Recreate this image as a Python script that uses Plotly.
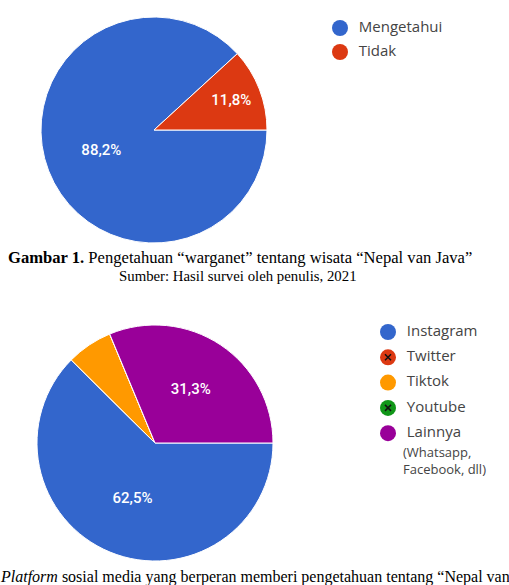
import plotly.graph_objects as go

W, H = 509, 585

# ---- data ----
labels1 = ["Mengetahui", "Tidak"]
values1 = [88.2, 11.8]
text1 = ["88,2%", "11,8%"]
colors1 = ["#3366CC", "#DC3912"]

labels2 = ["Instagram", "Twitter", "Tiktok", "Youtube", "Lainnya"]
values2 = [62.5, 0, 6.3, 0, 31.3]
text2 = ["62,5%", "", "", "", "31,3%"]
colors2 = ["#3366CC", "#DC3912", "#FF9900", "#109618", "#990099"]
lainnya_note = ["(Whatsapp,", "Facebook, dll)"]

caption1 = "<b>Gambar 1.</b> Pengetahuan “warganet” tentang wisata “Nepal van Java”"
source1 = "Sumber: Hasil survei oleh penulis, 2021"
caption2 = "<i>Platform</i> sosial media yang berperan memberi pengetahuan tentang “Nepal van Java”"


def dom(cx, cy, r):
    return dict(x=[(cx - r) / W, (cx + r) / W], y=[1 - (cy + r) / H, 1 - (cy - r) / H])


fig = go.Figure()

pie_common = dict(
    sort=False, direction="clockwise", rotation=90,
    textinfo="text", textposition="inside", insidetextorientation="horizontal",
    textfont=dict(family="Roboto", size=15, color="white", weight=500),
    marker_line=dict(color="white", width=1), showlegend=False, hoverinfo="label+percent",
)

fig.add_trace(go.Pie(labels=labels1, values=values1, text=text1,
                     marker_colors=colors1, domain=dom(154, 130, 113), **pie_common))
fig.add_trace(go.Pie(labels=labels2, values=values2, text=text2,
                     marker_colors=colors2, domain=dom(155, 443, 118), **pie_common))

# ---- custom legends (circle markers) ----
def add_legend(labels, colors, values, x0, y0, dy):
    ys = [y0 + i * dy for i in range(len(labels))]
    xs = [x0] * len(labels)
    fig.add_trace(go.Scatter(
        x=xs, y=ys, mode="markers+text", text=["  " + l for l in labels],
        textposition="middle right",
        textfont=dict(family="Open Sans", size=15, color="#444"),
        marker=dict(size=16, color=colors, line=dict(width=0)),
        showlegend=False, hoverinfo="skip", cliponaxis=False,
    ))
    zx = [x for x, v in zip(xs, values) if v == 0]
    zy = [y for y, v in zip(ys, values) if v == 0]
    if zx:
        fig.add_trace(go.Scatter(
            x=zx, y=zy, mode="markers",
            marker=dict(symbol="x-thin", size=6, line=dict(color="#111", width=1.5)),
            showlegend=False, hoverinfo="skip", cliponaxis=False,
        ))
    return ys

add_legend(labels1, colors1, values1, 340, 28, 24)
ys2 = add_legend(labels2, colors2, values2, 388, 332, 25.3)

fig.add_trace(go.Scatter(
    x=[403] * len(lainnya_note), y=[ys2[-1] + 21 + i * 17 for i in range(len(lainnya_note))],
    mode="text", text=lainnya_note, textposition="middle right",
    textfont=dict(family="Open Sans", size=13, color="#444"),
    showlegend=False, hoverinfo="skip", cliponaxis=False,
))

annos = [
    dict(text=caption1, x=240 / W, y=1 - 257 / H, xanchor="center", yanchor="middle",
         font=dict(family="Liberation Serif", size=16.6, color="black")),
    dict(text=source1, x=238 / W, y=1 - 276 / H, xanchor="center", yanchor="middle",
         font=dict(family="Liberation Serif", size=14.8, color="black")),
    dict(text=caption2, x=-2 / W, y=1 - 577 / H, xanchor="left", yanchor="middle",
         font=dict(family="Liberation Serif", size=16, color="black")),
]
for a in annos:
    a.update(xref="paper", yref="paper", showarrow=False)

fig.update_layout(
    width=W, height=H, margin=dict(l=0, r=0, t=0, b=0),
    paper_bgcolor="white", plot_bgcolor="white",
    xaxis=dict(range=[0, W], visible=False, fixedrange=True),
    yaxis=dict(range=[H, 0], visible=False, fixedrange=True),
    annotations=annos, showlegend=False,
)

fig.write_html("out.html")
